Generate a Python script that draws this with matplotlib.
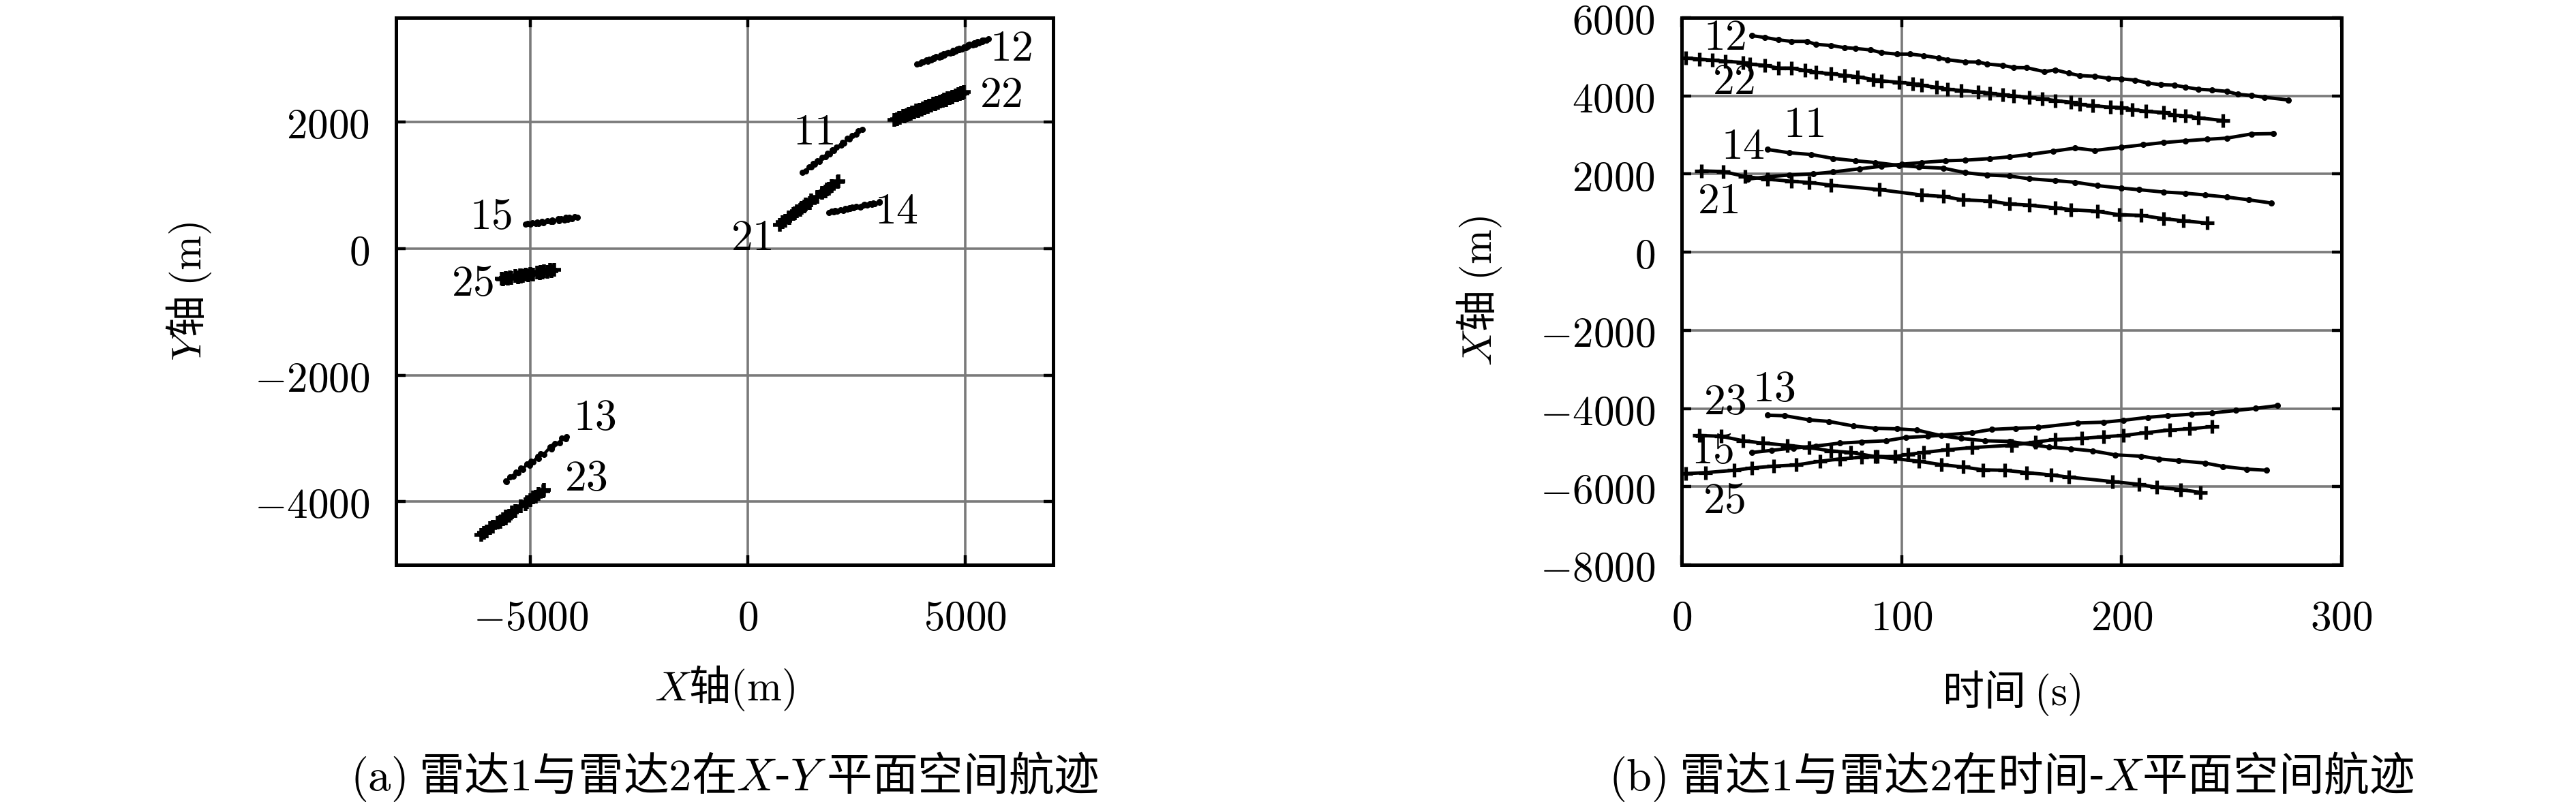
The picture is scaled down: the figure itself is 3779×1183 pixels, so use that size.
import matplotlib
matplotlib.use('Agg')
import matplotlib.pyplot as plt

plt.rcParams['font.family'] = ['Noto Sans CJK SC', 'DejaVu Sans']
plt.rcParams['mathtext.fontset'] = 'cm'
plt.rcParams['font.size'] = 22

# radar 1 tracks (dots): time (s), X (m), Y (m)
t11 = [39, 49, 59, 69, 79, 88, 99, 108, 119, 129, 139, 149, 158, 170, 179, 189, 200, 208, 219, 229, 238, 248, 258, 268]
x11 = [2630, 2545, 2500, 2400, 2340, 2295, 2220, 2180, 2150, 2035, 1975, 1950, 1880, 1830, 1790, 1705, 1640, 1600, 1540, 1510, 1465, 1410, 1340, 1260]
y11 = [1885, 1860, 1805, 1790, 1730, 1740, 1670, 1680, 1635, 1605, 1545, 1565, 1500, 1505, 1450, 1440, 1380, 1390, 1330, 1345, 1290, 1295, 1230, 1200]

t12 = [32, 38, 44, 50, 57, 61, 68, 74, 79, 86, 91, 98, 104, 110, 117, 121, 129, 135, 139, 146, 151, 157, 165, 170, 176, 181, 188, 194, 200, 206, 212, 218, 224, 229, 235, 241, 248, 253, 259, 265, 276]
x12 = [5540, 5495, 5435, 5395, 5395, 5320, 5290, 5235, 5215, 5175, 5105, 5070, 5070, 5030, 4970, 4925, 4870, 4865, 4815, 4780, 4725, 4720, 4620, 4665, 4580, 4520, 4500, 4450, 4435, 4405, 4330, 4285, 4275, 4225, 4170, 4150, 4115, 4040, 4010, 3965, 3895]
y12 = [3317, 3290, 3300, 3270, 3290, 3250, 3268, 3235, 3250, 3215, 3225, 3195, 3215, 3180, 3190, 3155, 3170, 3140, 3155, 3120, 3130, 3105, 3105, 3090, 3095, 3060, 3075, 3040, 3060, 3030, 3035, 3000, 3020, 2985, 2995, 2965, 2980, 2945, 2955, 2925, 2918]

t13 = [39, 47, 58, 67, 78, 88, 98, 107, 118, 127, 138, 149, 161, 167, 177, 187, 197, 209, 217, 226, 238, 246, 257, 266]
x13 = [-4170, -4185, -4290, -4330, -4445, -4505, -4520, -4550, -4695, -4765, -4825, -4840, -4940, -4985, -5030, -5085, -5185, -5220, -5290, -5335, -5395, -5480, -5550, -5580]
y13 = [-2970, -3010, -3000, -3075, -3080, -3120, -3170, -3140, -3250, -3240, -3320, -3290, -3370, -3360, -3425, -3410, -3490, -3470, -3550, -3530, -3600, -3610, -3680, -3670]

t14 = [30, 39, 49, 60, 69, 81, 91, 100, 109, 120, 129, 140, 149, 158, 169, 179, 188, 200, 210, 219, 229, 239, 248, 259, 269]
x14 = [1870, 1930, 1975, 2005, 2055, 2135, 2200, 2250, 2295, 2340, 2355, 2395, 2440, 2500, 2585, 2665, 2605, 2685, 2750, 2805, 2850, 2890, 2920, 3025, 3035]
y14 = [571, 592, 582, 600, 590, 615, 605, 632, 622, 645, 630, 652, 640, 668, 660, 692, 665, 695, 684, 712, 700, 722, 708, 738, 728]

t15 = [32, 41, 51, 61, 72, 82, 93, 102, 112, 132, 141, 152, 162, 180, 192, 201, 212, 221, 232, 241, 252, 261, 271]
x15 = [-5125, -5070, -5010, -4960, -4885, -4855, -4825, -4740, -4710, -4620, -4535, -4505, -4485, -4370, -4350, -4300, -4225, -4185, -4145, -4115, -4050, -3995, -3925]
y15 = [385, 400, 385, 410, 395, 420, 400, 430, 410, 440, 425, 455, 430, 470, 445, 475, 455, 490, 465, 495, 470, 510, 496]

# radar 2 tracks (plus markers)
t21 = [9, 19, 29, 39, 50, 58, 68, 90, 109, 119, 128, 140, 149, 158, 170, 177, 189, 199, 209, 219, 228, 239]
x21 = [2080, 2065, 1935, 1870, 1815, 1785, 1715, 1600, 1465, 1425, 1340, 1310, 1235, 1205, 1135, 1090, 1045, 960, 940, 860, 805, 745]
y21 = [1070, 1050, 995, 950, 935, 905, 885, 815, 760, 725, 695, 665, 640, 612, 590, 555, 545, 488, 490, 440, 422, 380]

t22 = [2, 8, 14, 20, 28, 31, 38, 44, 50, 56, 61, 68, 74, 80, 87, 91, 99, 105, 109, 116, 121, 127, 135, 140, 146, 151, 158, 164, 170, 177, 181, 187, 195, 200, 205, 211, 219, 224, 229, 235, 246]
x22 = [4970, 4940, 4915, 4885, 4855, 4815, 4780, 4710, 4710, 4650, 4605, 4565, 4525, 4490, 4420, 4385, 4345, 4315, 4275, 4215, 4170, 4140, 4100, 4070, 4030, 4000, 3955, 3925, 3880, 3835, 3780, 3750, 3710, 3705, 3650, 3605, 3575, 3505, 3490, 3440, 3370]
y22 = [2475, 2455, 2460, 2440, 2445, 2420, 2425, 2390, 2405, 2375, 2378, 2350, 2355, 2332, 2328, 2302, 2306, 2285, 2288, 2258, 2260, 2236, 2240, 2218, 2220, 2198, 2200, 2178, 2180, 2155, 2152, 2132, 2133, 2118, 2115, 2092, 2096, 2065, 2072, 2048, 2034]

t23 = [8, 18, 28, 37, 48, 58, 68, 77, 88, 108, 118, 128, 137, 147, 157, 168, 176, 196, 208, 216, 227, 236]
x23 = [-4690, -4710, -4825, -4885, -4940, -5000, -5085, -5125, -5230, -5350, -5435, -5495, -5570, -5580, -5640, -5700, -5755, -5870, -5940, -6015, -6075, -6145]
y23 = [-3815, -3840, -3880, -3925, -3935, -3980, -4005, -4040, -4075, -4150, -4175, -4220, -4240, -4262, -4275, -4320, -4330, -4400, -4420, -4472, -4488, -4530]

t25 = [2, 11, 24, 32, 42, 52, 63, 72, 82, 89, 97, 103, 110, 121, 132, 150, 161, 170, 182, 192, 201, 211, 222, 231, 241]
x25 = [-5665, -5640, -5580, -5520, -5475, -5445, -5350, -5290, -5245, -5230, -5230, -5175, -5125, -5055, -5000, -4940, -4855, -4795, -4765, -4720, -4690, -4620, -4550, -4520, -4465]
y25 = [-470, -490, -465, -478, -450, -465, -435, -450, -422, -440, -420, -435, -410, -420, -395, -408, -378, -392, -365, -380, -360, -370, -340, -355, -335]

radar1 = [(t11, x11, y11), (t12, x12, y12), (t13, x13, y13), (t14, x14, y14), (t15, x15, y15)]
radar2 = [(t21, x21, y21), (t22, x22, y22), (t23, x23, y23), (t25, x25, y25)]

xy_ticks_x = [-5000, 0, 5000]
xy_ticks_y = [-4000, -2000, 0, 2000]
tx_ticks_t = [0, 100, 200, 300]
tx_ticks_x = [-8000, -6000, -4000, -2000, 0, 2000, 4000, 6000]

fig = plt.figure(figsize=(18.9, 5.915), dpi=200)
ax1 = fig.add_axes([0.1537, 0.2992, 0.2550, 0.6788])
ax2 = fig.add_axes([0.6526, 0.2992, 0.2561, 0.6788])

for t, x, y in radar1:
    ax1.plot(x, y, color='k', lw=1.6, marker='.', ms=4.5)
    ax2.plot(t, x, color='k', lw=1.8, marker='.', ms=4.5)
for t, x, y in radar2:
    ax1.plot(x, y, color='k', lw=1.8, marker='+', ms=7.5, mew=2.0)
    ax2.plot(t, x, color='k', lw=1.8, marker='+', ms=7.5, mew=1.9)

# track numbers
lab1 = {'12': (6070, 3166), '22': (5830, 2431), '11': (1510, 1848), '21': (90, 175),
        '14': (3420, 595), '15': (-5910, 507), '25': (-6340, -548),
        '13': (-3530, -2671), '23': (-3730, -3633)}
lab2 = {'12': (19.6, 5494), '22': (23.7, 4361), '11': (55.7, 3267), '14': (27.8, 2716),
        '21': (16.5, 1321), '23': (19.6, -3824), '13': (42.1, -3505),
        '15': (14.2, -5086), '25': (19.4, -6353)}
for k, (a, b) in lab1.items():
    ax1.text(a, b, f'${k}$', ha='center', va='center', fontsize=23)
for k, (a, b) in lab2.items():
    ax2.text(a, b, f'${k}$', ha='center', va='center', fontsize=23)

ax1.set_xlim(-8100, 7030)
ax1.set_ylim(-5000, 3650)
ax1.set_xticks(xy_ticks_x, [f'${v}$' for v in xy_ticks_x])
ax1.set_yticks(xy_ticks_y, [f'${v}$' for v in xy_ticks_y])
ax1.set_xlabel(r'$X$轴$(\mathrm{m})$')
ax1.set_ylabel(r'$Y$轴 $(\mathrm{m})$')

ax2.set_xlim(0, 300)
ax2.set_ylim(-8000, 6000)
ax2.set_xticks(tx_ticks_t, [f'${v}$' for v in tx_ticks_t])
ax2.set_yticks(tx_ticks_x, [f'${v}$' for v in tx_ticks_x])
ax2.set_xlabel(r'时间 $(\mathrm{s})$')
ax2.set_ylabel(r'$X$轴 $(\mathrm{m})$')

for ax in (ax1, ax2):
    ax.set_axisbelow(True)
    ax.grid(True, color='#7a7a7a', lw=1.3)
    ax.tick_params(direction='in', length=5, width=1.6, top=True, right=True, labelsize=22)
    ax.tick_params(axis='x', pad=17)
    ax.tick_params(axis='y', pad=14)
    for sp in ax.spines.values():
        sp.set_linewidth(1.8)
    ax.xaxis.label.set_va('center')
    ax.yaxis.label.set_va('center')
    ax.xaxis.label.set_fontsize(22)
    ax.yaxis.label.set_fontsize(22)

ax1.xaxis.set_label_coords(0.5, -0.225)
ax1.yaxis.set_label_coords(-0.315, 0.5)
ax2.xaxis.set_label_coords(0.5, -0.235)
ax2.yaxis.set_label_coords(-0.307, 0.5)

fig.text(0.2812, 0.036, r'$(\mathrm{a})$ 雷达$1$与雷达$2$在$X$-$Y$ 平面空间航迹',
         ha='center', va='center', fontsize=24)
fig.text(0.7806, 0.036, r'$(\mathrm{b})$ 雷达$1$与雷达$2$在时间-$X$平面空间航迹',
         ha='center', va='center', fontsize=24)

fig.savefig('out.png', dpi=200)
